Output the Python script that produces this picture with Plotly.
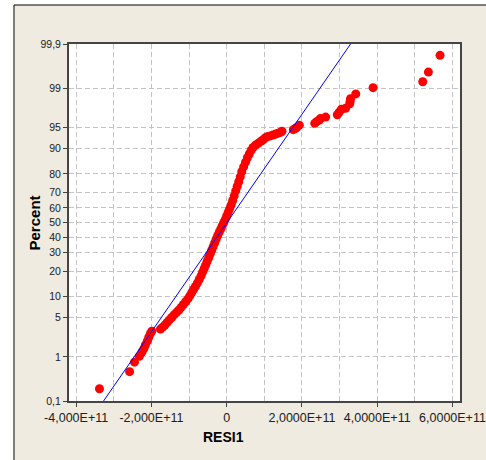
import plotly.graph_objects as go
from statistics import NormalDist

nd = NormalDist()

# Residuals (units of 1E11) and plotted percent
resid_e11 = [
    -3.38, -2.58, -2.45, -2.32, -2.25, -2.20, -2.16, -2.11, -2.07, -2.03, -1.99,
    -1.76, -1.70, -1.64, -1.58, -1.52, -1.46, -1.40, -1.33, -1.27, -1.21, -1.15,
    -1.09, -1.03, -0.98, -0.93, -0.88, -0.83, -0.78, -0.73, -0.68, -0.64, -0.60,
    -0.56, -0.52, -0.48, -0.44, -0.40, -0.36, -0.32, -0.28, -0.24, -0.20, -0.16,
    -0.12, -0.08, -0.04, 0.00, 0.04, 0.08, 0.12, 0.16, 0.20, 0.24, 0.28, 0.32,
    0.36, 0.40, 0.45, 0.50, 0.55, 0.60, 0.65, 0.70, 0.77, 0.84, 0.91, 0.97,
    1.03, 1.09, 1.16, 1.23, 1.30, 1.37, 1.43, 1.47,
    1.77, 1.82, 1.86, 1.93, 2.34, 2.40, 2.46, 2.49, 2.63, 2.94, 2.99, 3.05,
    3.16, 3.27, 3.28, 3.29, 3.43, 3.89, 5.21, 5.36, 5.67,
]
percent = [
    0.20, 0.49, 0.78, 1.03, 1.25, 1.45, 1.7, 2.0, 2.35, 2.7, 3.0,
    3.25, 3.5, 3.8, 4.2, 4.6, 5.0, 5.5, 6.0, 6.5, 7.1, 7.8,
    8.5, 9.3, 10.2, 11.2, 12.3, 13.4, 14.7, 16.2, 17.8, 19.5, 21.2,
    23.0, 25.0, 27.0, 29.2, 31.5, 33.8, 36.2, 38.6, 41.0, 43.2, 45.4,
    47.6, 49.8, 52.0, 54.5, 57.0, 59.5, 62.0, 64.8, 67.8, 70.8, 73.5, 76.0,
    78.5, 81.0, 83.2, 85.2, 86.9, 88.2, 89.4, 90.3, 91.0, 91.5, 92.0, 92.4,
    92.9, 93.2, 93.3, 93.5, 93.7, 93.9, 94.1, 94.3,
    94.6, 94.8, 95.0, 95.4, 95.7, 96.0, 96.2, 96.4, 96.6, 96.9, 97.2, 97.5,
    97.6, 98.0, 98.2, 98.4, 98.7, 99.02, 99.26, 99.54, 99.81,
]

# Fitted normal line
fit_mean = 0.01e11
fit_sd = 1.062e11
line_pct = [0.1, 99.9]

# Axis ticks
y_tick_pct = [0.1, 1, 5, 10, 20, 30, 40, 50, 60, 70, 80, 90, 95, 99, 99.9]
y_tick_text = ["0,1", "1", "5", "10", "20", "30", "40", "50", "60", "70",
               "80", "90", "95", "99", "99,9"]
x_tick_vals = [-4e11, -2e11, 0, 2e11, 4e11, 6e11]
x_tick_text = ["-4,000E+11", "-2,000E+11", "0", "2,0000E+11", "4,0000E+11", "6,0000E+11"]
x_grid_vals = [-4e11, -3e11, -2e11, -1e11, 0, 1e11, 2e11, 3e11, 4e11, 5e11, 6e11]

def z(p):
    return nd.inv_cdf(p / 100.0)

xs = [v * 1e11 for v in resid_e11]
ys = [z(p) for p in percent]
line_x = [fit_mean + fit_sd * z(p) for p in line_pct]
line_y = [z(p) for p in line_pct]

fig = go.Figure()
fig.add_trace(go.Scatter(
    x=xs, y=ys, mode="markers",
    marker=dict(color="#FF0000", size=9, line=dict(width=0)),
    hoverinfo="skip", showlegend=False,
))
fig.add_trace(go.Scatter(
    x=line_x, y=line_y, mode="lines",
    line=dict(color="#0000FF", width=1),
    hoverinfo="skip", showlegend=False,
))

narrow = "Liberation Sans Narrow, Liberation Sans, Arial, sans-serif"
grid_col = "#C4C4C4"

fig.update_layout(
    width=486, height=460,
    margin=dict(l=69, r=26, t=44, b=59, autoexpand=False),
    paper_bgcolor="#EFEBE1",
    plot_bgcolor="#FFFFFF",
    showlegend=False,
    xaxis=dict(
        range=[-4.19e11, 6.20e11], automargin=False,
        tickmode="array", tickvals=x_tick_vals, ticktext=x_tick_text,
        tickfont=dict(family=narrow, size=12.5, color="#202020"),
        ticks="outside", ticklen=4, tickcolor="#404040",
        showgrid=True, gridcolor=grid_col, griddash="5px,3px", gridwidth=1,
        minor=dict(tickmode="array", tickvals=x_grid_vals, showgrid=True,
                   gridcolor=grid_col, griddash="5px,3px", ticks=""),
        showline=True, linecolor="#454545", linewidth=2, mirror=True,
        zeroline=False,
    ),
    yaxis=dict(
        range=[z(0.1), z(99.9)], automargin=False,
        tickmode="array", tickvals=[z(p) for p in y_tick_pct], ticktext=y_tick_text,
        tickfont=dict(family=narrow, size=10.5, color="#202020"),
        ticks="outside", ticklen=4, tickcolor="#404040",
        showgrid=True, gridcolor=grid_col, griddash="5px,3px", gridwidth=1,
        showline=True, linecolor="#454545", linewidth=2, mirror=True,
        zeroline=False,
    ),
    annotations=[
        dict(text="<b>Percent</b>", xref="paper", yref="paper",
             x=-0.087, y=0.5, textangle=-90, showarrow=False,
             xanchor="center", yanchor="middle",
             font=dict(family="Liberation Sans, Arial, sans-serif", size=15, color="#000000")),
        dict(text="<b>RESI1</b>", xref="paper", yref="paper",
             x=0.396, y=-0.101, showarrow=False,
             xanchor="center", yanchor="middle",
             font=dict(family=narrow, size=14, color="#000000")),
    ],
    shapes=[
        # white margin outside the outer frame (left and top)
        dict(type="rect", xref="paper", yref="paper", x0=-0.2, x1=-0.1407,
             y0=-0.3, y1=1.2, fillcolor="#FFFFFF", line=dict(width=0), layer="below"),
        dict(type="rect", xref="paper", yref="paper", x0=-0.2, x1=1.2,
             y0=1.1092, y1=1.2, fillcolor="#FFFFFF", line=dict(width=0), layer="below"),
        # outer frame edges
        dict(type="line", xref="paper", yref="paper", x0=-0.1407, x1=-0.1407,
             y0=-0.3, y1=1.1092, line=dict(color="#000000", width=1), layer="below"),
        dict(type="line", xref="paper", yref="paper", x0=-0.1407, x1=1.2,
             y0=1.1092, y1=1.1092, line=dict(color="#000000", width=1), layer="below"),
    ],
)

fig.write_html("out.html", config={"displayModeBar": False},
               post_script="document.body.style.margin='0px';")
